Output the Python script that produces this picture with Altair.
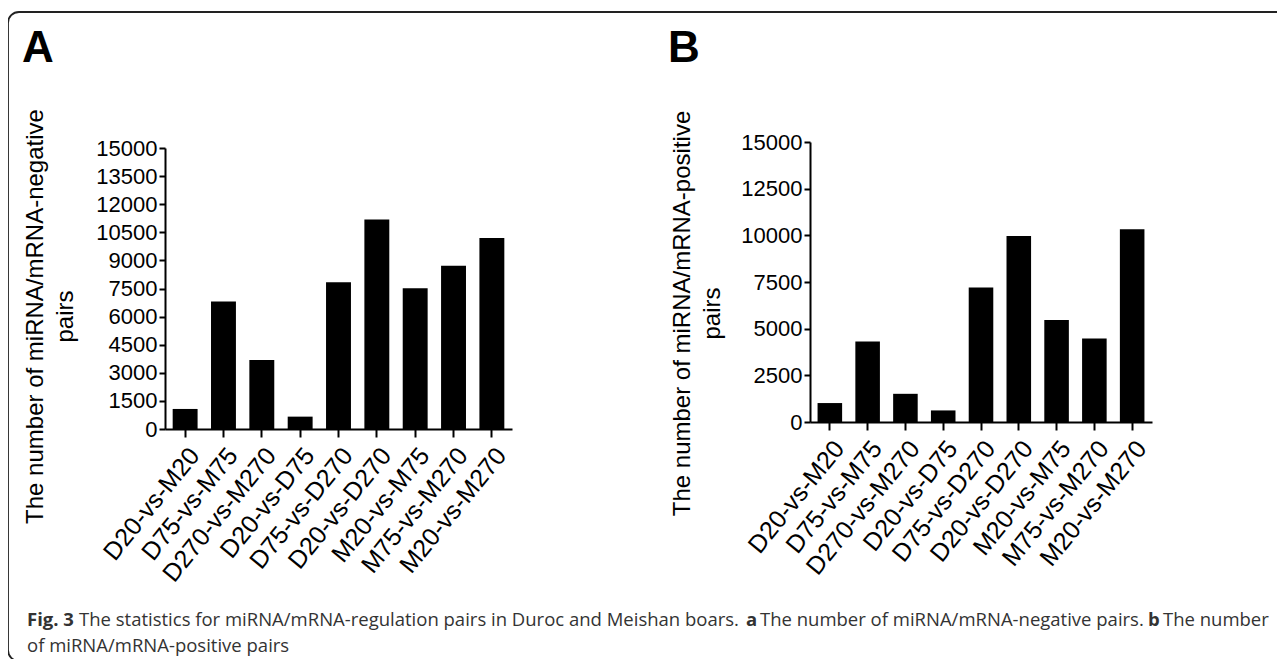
import altair as alt
import pandas as pd

# ---- data ----
categories = ["D20-vs-M20", "D75-vs-M75", "D270-vs-M270", "D20-vs-D75", "D75-vs-D270",
              "D20-vs-D270", "M20-vs-M75", "M75-vs-M270", "M20-vs-M270"]
negative_pairs = [1070, 6800, 3680, 660, 7840, 11180, 7520, 8710, 10200]
positive_pairs = [1015, 4310, 1510, 620, 7210, 9960, 5470, 4470, 10330]
ticks_a = [0, 1500, 3000, 4500, 6000, 7500, 9000, 10500, 12000, 13500, 15000]
ticks_b = [0, 2500, 5000, 7500, 10000, 12500, 15000]
title_a = ["The number of miRNA/mRNA-negative", "pairs"]
title_b = ["The number of miRNA/mRNA-positive", "pairs"]
caption_segments = [
    ("Fig. 3", "bold"),
    ("The statistics for miRNA/mRNA-regulation pairs in Duroc and Meishan boars.", "normal"),
    ("a", "bold"),
    ("The number of miRNA/mRNA-negative pairs.", "normal"),
    ("b", "bold"),
    ("The number", "normal"),
    ("of miRNA/mRNA-positive pairs", "normal"),
]

# ---- layout (view coordinates) ----
W, H = 1269, 651
FONT = "Liberation Sans, Arial, sans-serif"
CAP_FONT = "Open Sans, Noto Sans, sans-serif"

one = alt.Data(values=[{}])


def text_layer(text, x, y, size, weight="normal", font=FONT, color="black",
               align="left", baseline="alphabetic"):
    return alt.Chart(one).mark_text(
        text=text, font=font, fontSize=size, fontWeight=weight, color=color,
        align=align, baseline=baseline
    ).encode(x=alt.value(x), y=alt.value(y))


frame = alt.Chart(one).mark_rect(
    filled=False, stroke="#222222", strokeWidth=1.8, cornerRadius=11
).encode(x=alt.value(0), x2=alt.value(W + 40), y=alt.value(4), y2=alt.value(H + 2))


def panel(values, ticks, title, xr, yr, title_dx, title_y):
    df = pd.DataFrame({"comparison": categories, "pairs": values})
    return alt.Chart(df).mark_bar(color="black").encode(
        x=alt.X(
            "comparison:N", sort=categories,
            scale=alt.Scale(range=xr, paddingInner=0.35, paddingOuter=0.2),
            axis=alt.Axis(
                orient="bottom", offset=yr[0] - H, title=None,
                labelAngle=-51, labelAlign="right", labelBaseline="top",
                labelFont=FONT, labelFontSize=25, labelColor="black", labelPadding=6,
                labelOverlap=False, labelBound=False, labelFlush=False,
                tickSize=8, tickWidth=2, tickColor="black",
                domainWidth=2, domainColor="black", grid=False,
            ),
        ),
        y=alt.Y(
            "pairs:Q",
            scale=alt.Scale(domain=[0, 15000], range=yr, nice=False, zero=True),
            axis=alt.Axis(
                orient="left", offset=-xr[0], values=ticks, format="d",
                labelFont=FONT, labelFontSize=22, labelColor="black", labelPadding=2,
                labelOverlap=False, labelBound=False, labelFlush=False,
                tickSize=6, tickWidth=2, tickColor="black",
                domainWidth=2, domainColor="black", grid=False,
                title=title, titleFont=FONT, titleFontSize=24, titleFontWeight="normal",
                titleColor="black", titleAngle=270, titleAlign="center",
                titleBaseline="middle", titleLineHeight=30,
                titleX=title_dx, titleY=title_y,
            ),
        ),
    )


panel_a = panel(negative_pairs, ticks_a, title_a, [157, 504], [421, 140], -130, 308)
panel_b = panel(positive_pairs, ticks_b, title_b, [802, 1144], [414, 134], -128, 305)

letter_a = text_layer("A", 14, 54, 44, "bold")
letter_b = text_layer("B", 660, 54, 44, "bold")

cap_x = [19, 71, 738, 752, 1140, 1155, 19]
cap_y = [618, 618, 618, 618, 618, 618, 644]
caps = [
    text_layer(t, cx, cy, 18.5, w, font=CAP_FONT, color="#333333")
    for (t, w), cx, cy in zip(caption_segments, cap_x, cap_y)
]

chart = alt.layer(frame, panel_a, panel_b, letter_a, letter_b, *caps).resolve_scale(
    x="independent", y="independent"
).properties(
    width=W, height=H, autosize=alt.AutoSizeParams(type="none"), padding=0
).configure_view(strokeWidth=0)

chart.save("out.html", embed_options={"renderer": "svg", "actions": False})
